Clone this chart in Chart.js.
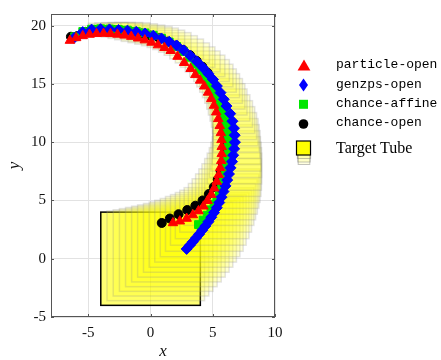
<!DOCTYPE html>
<html>
<head>
<title>Target tube</title>
<script src="https://cdn.jsdelivr.net/npm/chart.js@4.4.0/dist/chart.umd.min.js"></script>
<style>
body { margin: 0; background: #fff; }
#wrap { position: relative; width: 441px; height: 360px; }
.lg { position: absolute; left: 336px; font: 13px "Liberation Mono", monospace; line-height: 16px; color: #000; white-space: nowrap; }
.lg2 { position: absolute; left: 336px; font: 16px "Liberation Serif", serif; line-height: 18px; color: #000; white-space: nowrap; }
#icons { position: absolute; left: 0; top: 0; }
</style>
</head>
<body>
<div id="wrap">
<canvas id="c" width="441" height="360"></canvas>
<svg id="icons" width="441" height="360">
  <rect x="298.2" y="148.5" width="11.6" height="16" fill="rgba(255,255,0,0.12)" stroke="rgba(120,120,120,0.45)"/>
  <rect x="297.8" y="146" width="12.4" height="16" fill="rgba(255,255,0,0.12)" stroke="rgba(120,120,120,0.45)"/>
  <rect x="297.4" y="143.5" width="13.2" height="15" fill="rgba(255,255,0,0.12)" stroke="rgba(120,120,120,0.45)"/>
  <rect x="296.5" y="141" width="14" height="14" fill="#ffff00" stroke="#000" stroke-width="1.2"/>
  <polygon points="297.6,70.5 310.4,70.5 304,59.5" fill="#ff0000"/>
  <polygon points="303.5,78.5 308,85 303.5,91.5 299,85" fill="#0000ff"/>
  <rect x="299" y="99.8" width="9" height="9" fill="#00e600"/>
  <circle cx="303.5" cy="124" r="4.8" fill="#000"/>
</svg>
<div class="lg" style="top:57px">particle-open</div>
<div class="lg" style="top:77px">genzps-open</div>
<div class="lg" style="top:96px">chance-affine</div>
<div class="lg" style="top:115px">chance-open</div>
<div class="lg2" style="top:139px">Target Tube</div>
</div>

<script>
// axis ticks
var xTicks = [-5, 0, 5, 10];
var yTicks = [-5, 0, 5, 10, 15, 20];

// particle-open
var particleX = [1.80, 2.35, 2.90, 3.40, 3.85, 4.25, 4.58, 4.88, 5.12, 5.32, 5.48, 5.60, 5.68, 5.72, 5.72, 5.70, 5.65, 5.56, 5.44, 5.28,
  5.10, 4.88, 4.62, 4.32, 3.98, 3.60, 3.22, 2.70, 2.17, 1.62, 1.12, 0.60, 0.08, -0.46, -1.00, -1.55, -2.10, -2.66, -3.22, -3.78,
  -4.34, -4.90, -5.45, -5.98, -6.48];
var particleY = [3.07, 3.22, 3.45, 3.75, 4.10, 4.50, 4.98, 5.50, 6.05, 6.62, 7.20, 7.80, 8.40, 9.00, 9.60, 10.20, 10.80, 11.40, 12.00, 12.58,
  13.15, 13.72, 14.27, 14.80, 15.30, 15.78, 16.30, 16.82, 17.35, 17.85, 18.10, 18.33, 18.56, 18.76, 18.92, 19.06, 19.17, 19.25, 19.30, 19.32,
  19.30, 19.24, 19.12, 18.95, 18.72];

// genzps-open
var genzpsX = [2.90, 3.15, 3.40, 3.65, 3.90, 4.15, 4.40, 4.65, 4.88, 5.10, 5.32, 5.52, 5.70, 5.86, 6.02, 6.16, 6.30, 6.42, 6.55, 6.64,
  6.72, 6.78, 6.76, 6.70, 6.58, 6.40, 6.10, 5.88, 5.62, 5.33, 5.02, 4.64, 4.20, 3.72, 3.20, 2.66, 2.10, 1.50, 0.88, 0.22,
  -0.45, -1.15, -1.86, -2.58, -3.30, -4.02, -4.74, -5.45, -6.15];
var genzpsY = [0.84, 1.15, 1.45, 1.78, 2.10, 2.45, 2.80, 3.18, 3.56, 3.96, 4.38, 4.82, 5.28, 5.76, 6.25, 6.75, 7.27, 7.80, 8.33, 8.88,
  9.43, 10.00, 10.60, 11.20, 11.80, 12.45, 13.10, 13.68, 14.25, 14.82, 15.38, 15.88, 16.40, 16.92, 17.42, 17.88, 18.30, 18.62, 18.90, 19.14,
  19.33, 19.47, 19.57, 19.63, 19.68, 19.70, 19.66, 19.45, 18.95];

// chance-affine
var affineX = [3.85, 4.22, 4.55, 4.85, 5.10, 5.33, 5.53, 5.71, 5.86, 5.99, 6.10, 6.18, 6.23, 6.25, 6.24, 6.19, 6.11, 5.99, 5.83, 5.62,
  5.37, 5.10, 4.85, 4.58, 4.28, 3.94, 3.56, 3.14, 2.66, 2.10, 1.50, 0.88, 0.22, -0.45, -1.15, -1.86, -2.58, -3.30, -4.02, -4.74,
  -5.45, -6.10];
var affineY = [2.93, 3.32, 3.74, 4.20, 4.68, 5.18, 5.70, 6.24, 6.79, 7.35, 7.92, 8.50, 9.08, 9.66, 10.24, 10.82, 11.40, 11.97, 12.53, 13.08,
  13.62, 14.15, 14.68, 15.20, 15.72, 16.22, 16.70, 17.28, 17.78, 18.22, 18.60, 18.92, 19.18, 19.38, 19.52, 19.62, 19.68, 19.72, 19.74, 19.70,
  19.50, 19.05];

// chance-open
var openX = [0.90, 1.55, 2.25, 2.95, 3.60, 4.18, 4.68, 5.08, 5.40, 5.64, 5.82, 5.94, 6.00, 6.02, 6.00, 5.96, 5.90, 5.82, 5.68, 5.48,
  5.24, 4.94, 4.58, 4.16, 3.70, 3.18, 2.62, 2.02, 1.38, 0.70, 0.00, -0.72, -1.46, -2.20, -2.96, -3.72, -4.48, -5.22, -5.90, -6.40];
var openY = [3.07, 3.45, 3.82, 4.18, 4.55, 5.00, 5.55, 6.15, 6.80, 7.48, 8.16, 8.85, 9.55, 10.25, 10.95, 11.64, 12.30, 12.95, 13.60, 14.22,
  14.82, 15.40, 15.96, 16.48, 16.98, 17.46, 17.92, 18.30, 18.63, 18.92, 19.15, 19.33, 19.46, 19.55, 19.61, 19.64, 19.63, 19.47, 19.10, 19.05];

// target tube: box centres and half widths
var tubeCx = [0.00, 0.42, 0.84, 1.26, 1.67, 2.08, 2.48, 2.87, 3.25, 3.62, 3.98, 4.32, 4.64, 4.95, 5.23, 5.50, 5.74, 5.96, 6.16, 6.34,
  6.50, 6.63, 6.74, 6.82, 6.87, 6.89, 6.90, 6.88, 6.84, 6.77, 6.67, 6.54, 6.38, 6.20, 6.05, 5.87, 5.66, 5.42, 5.17, 4.90,
  4.56, 4.19, 3.79, 3.36, 2.90, 2.43, 1.95, 1.46, 0.98, 0.50, -0.06, -0.63, -1.20, -1.76, -2.32, -2.88, -3.44, -4.00];
var tubeCy = [0.00, 0.25, 0.50, 0.75, 1.00, 1.26, 1.52, 1.79, 2.07, 2.36, 2.67, 2.99, 3.33, 3.70, 4.08, 4.48, 4.90, 5.34, 5.80, 6.27,
  6.75, 7.24, 7.74, 8.25, 8.76, 9.28, 9.80, 10.33, 10.86, 11.38, 11.90, 12.42, 12.94, 13.45, 13.93, 14.40, 14.85, 15.29, 15.72, 16.15,
  16.55, 16.93, 17.30, 17.66, 18.00, 18.30, 18.56, 18.78, 18.96, 19.10, 19.23, 19.35, 19.45, 19.53, 19.59, 19.64, 19.68, 19.70];
var tubeRx = [4.00, 3.92, 3.84, 3.76, 3.68, 3.60, 3.52, 3.44, 3.36, 3.28, 3.20, 3.12, 3.04, 2.96, 2.88, 2.80, 2.70, 2.62, 2.54, 2.46,
  2.37, 2.28, 2.19, 2.10, 2.02, 1.94, 1.90, 1.85, 1.80, 1.75, 1.70, 1.65, 1.60, 1.55, 1.53, 1.51, 1.49, 1.47, 1.45, 1.43,
  1.41, 1.40, 1.38, 1.37, 1.35, 1.33, 1.30, 1.28, 1.25, 1.23, 1.20, 1.18, 1.15, 1.12, 1.09, 1.06, 1.03, 1.00];
var tubeRy = [4.00, 3.85, 3.70, 3.55, 3.40, 3.25, 3.10, 2.95, 2.80, 2.65, 2.50, 2.35, 2.17, 1.98, 1.80, 1.62, 1.56, 1.52, 1.48, 1.44,
  1.40, 1.36, 1.32, 1.28, 1.24, 1.20, 1.19, 1.18, 1.17, 1.16, 1.15, 1.14, 1.13, 1.12, 1.09, 1.06, 1.03, 1.00, 0.97, 0.94,
  0.92, 0.90, 0.88, 0.86, 0.85, 0.84, 0.84, 0.83, 0.83, 0.82, 0.82, 0.81, 0.80, 0.74, 0.68, 0.62, 0.56, 0.50];

function pts(xs, ys) {
  return xs.map(function (x, i) { return { x: x, y: ys[i] }; });
}

var tickFont = { family: 'Liberation Serif', size: 15 };
var titleFont = { family: 'Liberation Serif', size: 17, style: 'italic', lineHeight: 1 };

// yellow boxes of the tube, drawn under the markers
var tubePlugin = {
  id: 'tube',
  beforeDatasetsDraw: function (chart) {
    var ctx = chart.ctx, xs = chart.scales.x, ys = chart.scales.y, a = chart.chartArea;
    ctx.save();
    ctx.beginPath();
    ctx.rect(a.left, a.top, a.right - a.left, a.bottom - a.top);
    ctx.clip();
    for (var k = 0; k < tubeCx.length; k++) {
      var l = xs.getPixelForValue(tubeCx[k] - tubeRx[k]);
      var r = xs.getPixelForValue(tubeCx[k] + tubeRx[k]);
      var t = ys.getPixelForValue(tubeCy[k] + tubeRy[k]);
      var b = ys.getPixelForValue(tubeCy[k] - tubeRy[k]);
      if (k == 0) {
        ctx.fillStyle = 'rgba(255,255,0,0.55)';
        ctx.strokeStyle = '#000';
      } else {
        ctx.fillStyle = 'rgba(255,255,0,0.16)';
        ctx.strokeStyle = 'rgba(140,140,140,0.24)';
      }
      ctx.lineWidth = 1.5;
      ctx.fillRect(l, t, r - l, b - t);
      ctx.strokeRect(l, t, r - l, b - t);
    }
    ctx.restore();
  }
};

// box around the axes with inward tick marks
var framePlugin = {
  id: 'frame',
  afterDraw: function (chart) {
    var ctx = chart.ctx, xs = chart.scales.x, ys = chart.scales.y, a = chart.chartArea;
    ctx.save();
    ctx.strokeStyle = '#555';
    ctx.lineWidth = 1;
    ctx.strokeRect(a.left + 0.5, a.top + 0.5, a.right - a.left - 1, a.bottom - a.top - 1);
    ctx.beginPath();
    xTicks.forEach(function (v) {
      var p = Math.round(xs.getPixelForValue(v)) + 0.5;
      ctx.moveTo(p, a.bottom); ctx.lineTo(p, a.bottom - 3);
      ctx.moveTo(p, a.top); ctx.lineTo(p, a.top + 3);
    });
    yTicks.forEach(function (v) {
      var p = Math.round(ys.getPixelForValue(v)) + 0.5;
      ctx.moveTo(a.left, p); ctx.lineTo(a.left + 3, p);
      ctx.moveTo(a.right, p); ctx.lineTo(a.right - 3, p);
    });
    ctx.stroke();
    ctx.restore();
  }
};

var chart = new Chart(document.getElementById('c').getContext('2d'), {
  type: 'scatter',
  data: {
    datasets: [
      { label: 'particle-open', data: pts(particleX, particleY), pointStyle: 'triangle', pointRadius: 5.5,
        backgroundColor: '#ff0000', borderColor: '#ff0000', borderWidth: 1 },
      { label: 'genzps-open', data: pts(genzpsX, genzpsY), pointStyle: 'rectRot', pointRadius: 5.5,
        backgroundColor: '#0000ff', borderColor: '#0000ff', borderWidth: 1 },
      { label: 'chance-affine', data: pts(affineX, affineY), pointStyle: 'rect', pointRadius: 5.5,
        backgroundColor: '#00e600', borderColor: '#00e600', borderWidth: 1 },
      { label: 'chance-open', data: pts(openX, openY), pointStyle: 'circle', pointRadius: 4.5,
        backgroundColor: '#000', borderColor: '#000', borderWidth: 1 }
    ]
  },
  options: {
    responsive: false,
    animation: false,
    devicePixelRatio: 1,
    layout: { padding: { top: 6, right: 166, left: 0, bottom: 0 } },
    plugins: { legend: { display: false }, tooltip: { enabled: false } },
    scales: {
      x: {
        type: 'linear', min: -8, max: 10,
        afterBuildTicks: function (s) { s.ticks = xTicks.map(function (v) { return { value: v }; }); },
        afterFit: function (s) { s.height = 43; },
        ticks: { font: tickFont, color: '#111', padding: 7 },
        grid: { color: '#e2e2e2', drawTicks: false },
        border: { display: false },
        title: { display: true, text: 'x', font: titleFont, color: '#111', padding: 0 }
      },
      y: {
        type: 'linear', min: -5, max: 21,
        afterBuildTicks: function (s) { s.ticks = yTicks.map(function (v) { return { value: v }; }); },
        afterFit: function (s) { s.width = 51; },
        ticks: { font: tickFont, color: '#111', padding: 5 },
        grid: { color: '#e2e2e2', drawTicks: false },
        border: { display: false },
        title: { display: true, text: 'y', font: titleFont, color: '#111', padding: { top: 6.5, bottom: 0 } }
      }
    }
  },
  plugins: [tubePlugin, framePlugin]
});
</script>
</body>
</html>
